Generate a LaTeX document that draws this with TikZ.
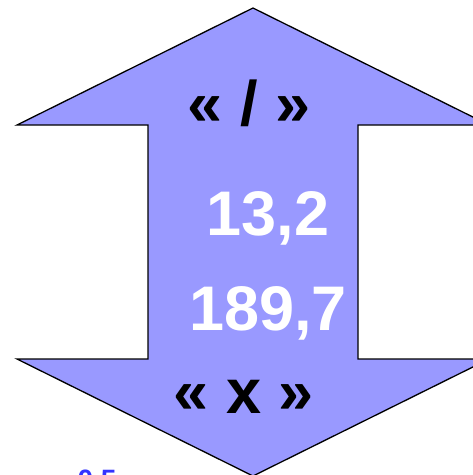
\documentclass[tikz,border=0pt]{standalone}
\usepackage{fontspec}
\setmainfont{Liberation Sans}
\usetikzlibrary{positioning}
\definecolor{arrowfill}{RGB}{153,153,255}
\definecolor{valblue}{RGB}{51,51,255}
\tikzset{
  bigarrow/.style={draw=black, fill=arrowfill, line width=1.3pt, line join=miter},
  opname/.style={font=\fontsize{63}{66}\selectfont\bfseries, text=black, inner sep=0pt, anchor=base},
  val/.style={font=\fontsize{63}{66}\selectfont\bfseries, text=white, inner sep=0pt, anchor=base},
  hint/.style={font=\fontsize{28}{30}\selectfont\bfseries, text=valblue, inner sep=0pt, anchor=base}
}
\begin{document}
\begin{tikzpicture}[x=1pt, y=-1pt]
    \useasboundingbox (0,0) rectangle (473,475);
    \begin{scope}
    \clip (0,0) rectangle (473,475);
    % double arrow
    \draw[bigarrow] (253,8) -- (489,125) -- (358,125) -- (358,359) -- (489,359)
      -- (253,476) -- (17,359) -- (148,359) -- (148,125) -- (17,125) -- cycle;
    \node[opname] (div) at (249,125) {« / »};
    \node[val] (v1) at (268,235) {13,2};
    \node[val] (v2) at (268,330) {189,7};
    \node[opname] (mul) at (244,413) {« x »};
    \node[hint] (h) at (97,489) {0,5};
    \end{scope}
\end{tikzpicture}
\end{document}
